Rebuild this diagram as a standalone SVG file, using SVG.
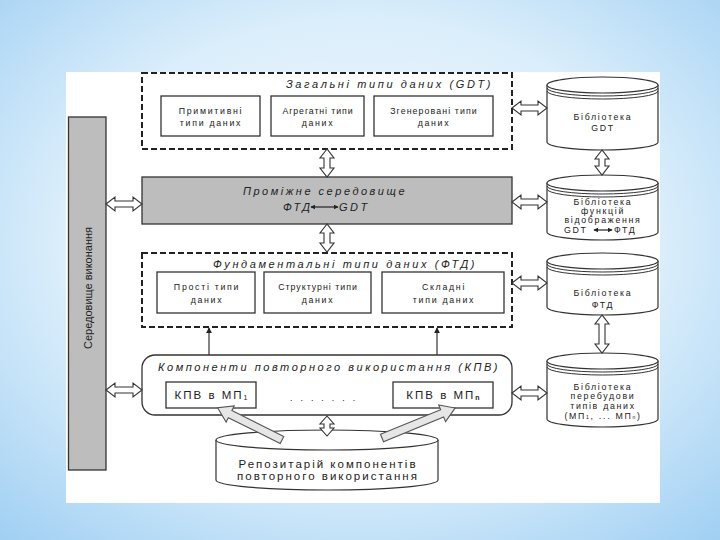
<svg xmlns="http://www.w3.org/2000/svg" width="720" height="540" viewBox="0 0 720 540">
<defs>
<radialGradient id="bg" cx="50%" cy="45%" r="75%">
<stop offset="0" stop-color="#f4fafe"/>
<stop offset="0.55" stop-color="#dbeefb"/>
<stop offset="1" stop-color="#9fcff3"/>
</radialGradient>
<marker id="ah" viewBox="0 0 8 8" refX="7" refY="4" markerWidth="5" markerHeight="5" orient="auto-start-reverse" markerUnits="userSpaceOnUse">
<path d="M0,0 L8,4 L0,8 z" fill="#222"/>
</marker>
<marker id="ah2" viewBox="0 0 8 8" refX="7" refY="4" markerWidth="6" markerHeight="6" orient="auto" markerUnits="userSpaceOnUse">
<path d="M0,0 L8,4 L0,8 z" fill="#222"/>
</marker>
</defs>
<style>
.box{fill:#fff;stroke:#333;stroke-width:1.3}
.dash{fill:#fff;stroke:#222;stroke-width:2;stroke-dasharray:6 3}
.gray{fill:#bdbdbd;stroke:#333;stroke-width:1.3}
.cyl{fill:#fff;stroke:#333;stroke-width:1.2}
.arc{fill:none;stroke:#333;stroke-width:1}
.darr{fill:#fff;stroke:#333;stroke-width:1.1}
.big{fill:#e6e6e6;stroke:#555;stroke-width:1.1}
.thin{fill:none;stroke:#333;stroke-width:1.2}
.t{font-family:"Liberation Sans",Arial,sans-serif;font-size:8.8px;letter-spacing:1.7px;fill:#222;text-anchor:middle}
.ti{font-family:"Liberation Sans",Arial,sans-serif;font-size:11px;font-style:italic;letter-spacing:2.5px;fill:#222}
.tm{font-family:"Liberation Sans",Arial,sans-serif;font-size:11.5px;letter-spacing:2px;fill:#222;text-anchor:middle}
.tv{font-family:"Liberation Sans",Arial,sans-serif;font-size:11px;fill:#222;text-anchor:middle}
</style>
<rect x="0" y="0" width="720" height="540" fill="url(#bg)"/>
<rect x="66" y="72" width="594" height="431" fill="#fff"/>

<g id="runtime">
<rect x="68.5" y="117" width="37.5" height="353" class="gray"/>
<text class="tv" transform="translate(92,288) rotate(-90)">Середовище виконання</text>
</g>

<g id="gdt">
<rect x="142" y="73" width="370" height="76" class="dash"/>
<text class="ti" x="286" y="88" textLength="207" lengthAdjust="spacing">Загальні типи даних (GDT)</text>
<rect x="161" y="96" width="99" height="40" class="box"/>
<text class="t" x="211" y="114">Примитивні</text>
<text class="t" x="211" y="126">типи даних</text>
<rect x="271" y="96" width="93" height="40" class="box"/>
<text class="t" x="318" y="114" style="letter-spacing:0.9px">Агрегатні типи</text>
<text class="t" x="318" y="126">даних</text>
<rect x="374" y="96" width="119" height="40" class="box"/>
<text class="t" x="434" y="114" style="letter-spacing:1.1px">Згенеровані типи</text>
<text class="t" x="434" y="126">даних</text>
</g>

<g id="middleware">
<rect x="142" y="177" width="370" height="47" class="gray"/>
<text class="ti" x="243" y="195" textLength="164" lengthAdjust="spacing">Проміжне середовище</text>
<text class="ti" x="283" y="211">ФТД</text>
<line x1="311" y1="207" x2="338" y2="207" stroke="#222" stroke-width="1.2" marker-start="url(#ah)" marker-end="url(#ah)"/>
<text class="ti" x="339" y="211">GDT</text>
</g>

<g id="ftd">
<rect x="142" y="253" width="370" height="74" class="dash"/>
<text class="ti" x="213" y="268" textLength="264" lengthAdjust="spacing">Фундаментальні типи даних (ФТД)</text>
<rect x="157" y="272" width="98" height="41" class="box"/>
<text class="t" x="207" y="290">Прості типи</text>
<text class="t" x="207" y="303">даних</text>
<rect x="264" y="272" width="107" height="41" class="box"/>
<text class="t" x="318" y="290" style="letter-spacing:1px">Структурні типи</text>
<text class="t" x="318" y="303">даних</text>
<rect x="382" y="272" width="122" height="41" class="box"/>
<text class="t" x="444" y="290">Складні</text>
<text class="t" x="444" y="303">типи даних</text>
</g>

<g id="kpv">
<rect x="142" y="355" width="370" height="60" rx="13" ry="13" class="box"/>
<text class="ti" x="158" y="371" textLength="342" lengthAdjust="spacing">Компоненти повторного використання  (КПВ)</text>
<rect x="166" y="382" width="90" height="26" class="box"/>
<text class="tm" x="212" y="399">КПВ в МП<tspan font-size="7" dy="1">1</tspan></text>
<rect x="393" y="382" width="100" height="26" class="box"/>
<text class="tm" x="444" y="399">КПВ в МП<tspan font-size="7" dy="1" font-weight="bold">n</tspan></text>
<text class="t" x="290" y="401" style="letter-spacing:8px;text-anchor:start">.......</text>
</g>

<g id="repository">
<path d="M216,440 L216,480 A111,10 0 0,0 438,480 L438,440" class="cyl"/>
<ellipse cx="327" cy="440" rx="111" ry="10" class="cyl"/>
<text class="tm" x="328" y="468">Репозитарій компонентів</text>
<text class="tm" x="328" y="480">повторного використання</text>
</g>

<g id="lib-gdt">
<path d="M547,85 L547,142 A55.5,8 0 0,0 658,142 L658,85" class="cyl"/>
<ellipse cx="602.5" cy="85" rx="55.5" ry="8" class="cyl"/>
<path d="M547,88 A55.5,8 0 0,0 658,88 M547,91 A55.5,8 0 0,0 658,91" class="arc"/>
<text class="t" x="603" y="120">Бібліотека</text>
<text class="t" x="603" y="131">GDT</text>
</g>

<g id="lib-map">
<path d="M547,183 L547,232 A55.5,8 0 0,0 658,232 L658,183" class="cyl"/>
<ellipse cx="602.5" cy="183" rx="55.5" ry="8" class="cyl"/>
<path d="M547,186 A55.5,8 0 0,0 658,186 M547,189 A55.5,8 0 0,0 658,189" class="arc"/>
<text class="t" x="603" y="205">Бібліотека</text>
<text class="t" x="603" y="214">функцій</text>
<text class="t" x="603" y="223">відображення</text>
<text class="t" x="564" y="233" style="text-anchor:start">GDT</text>
<line x1="594" y1="230" x2="612" y2="230" stroke="#222" stroke-width="1.2" marker-start="url(#ah)" marker-end="url(#ah)"/>
<text class="t" x="614" y="233" style="text-anchor:start">ФТД</text>
</g>

<g id="lib-ftd">
<path d="M547,261 L547,307 A55.5,8 0 0,0 658,307 L658,261" class="cyl"/>
<ellipse cx="602.5" cy="261" rx="55.5" ry="8" class="cyl"/>
<path d="M547,264 A55.5,8 0 0,0 658,264 M547,267 A55.5,8 0 0,0 658,267" class="arc"/>
<text class="t" x="603" y="296">Бібліотека</text>
<text class="t" x="603" y="308">ФТД</text>
</g>

<g id="lib-rebuild">
<path d="M547,361 L547,419 A55.5,8 0 0,0 658,419 L658,361" class="cyl"/>
<ellipse cx="602.5" cy="361" rx="55.5" ry="8" class="cyl"/>
<path d="M547,364 A55.5,8 0 0,0 658,364 M547,367 A55.5,8 0 0,0 658,367" class="arc"/>
<text class="t" x="603" y="390">Бібліотека</text>
<text class="t" x="603" y="399">перебудови</text>
<text class="t" x="603" y="409">типів даних</text>
<text class="t" x="603" y="419">(МП<tspan font-size="5">1</tspan>, ... МП<tspan font-size="5">n</tspan>)</text>
</g>

<g id="connectors">
<polygon class="darr" points="106,204 115,197 115,201 133,201 133,197 142,204 133,211 133,207 115,207 115,211"/>
<polygon class="darr" points="106,390 115,383 115,387 133,387 133,383 142,390 133,397 133,393 115,393 115,397"/>
<polygon class="darr" points="512,108 521,101 521,105 538,105 538,101 547,108 538,115 538,111 521,111 521,115"/>
<polygon class="darr" points="512,202 521,195 521,199 538,199 538,195 547,202 538,209 538,205 521,205 521,209"/>
<polygon class="darr" points="512,283 521,276 521,280 538,280 538,276 547,283 538,290 538,286 521,286 521,290"/>
<polygon class="darr" points="512,393 521,386 521,390 538,390 538,386 547,393 538,400 538,396 521,396 521,400"/>
<polygon class="darr" points="327,149 320,158 324,158 324,168 320,168 327,177 334,168 330,168 330,158 334,158"/>
<polygon class="darr" points="327,224 320,233 324,233 324,243 320,243 327,252 334,243 330,243 330,233 334,233"/>
<polygon class="darr" points="327,416 320,424 324,424 324,428 320,428 327,436 334,428 330,428 330,424 334,424"/>
<polygon class="darr" points="602,150 595,159 599,159 599,166 595,166 602,175 609,166 605,166 605,159 609,159"/>
<polygon class="darr" points="602,315 595,324 599,324 599,344 595,344 602,353 609,344 605,344 605,324 609,324"/>
<line class="thin" x1="209" y1="355" x2="209" y2="328" marker-end="url(#ah2)"/>
<line class="thin" x1="437" y1="355" x2="437" y2="328" marker-end="url(#ah2)"/>
<polygon class="big" transform="translate(282,440) rotate(206.57)" points="0,-4 58,-4 58,-9 72,0 58,9 58,4 0,4"/>
<polygon class="big" transform="translate(382,438) rotate(-22.3)" points="0,-4 65,-4 65,-9 79,0 65,9 65,4 0,4"/>
</g>
</svg>
